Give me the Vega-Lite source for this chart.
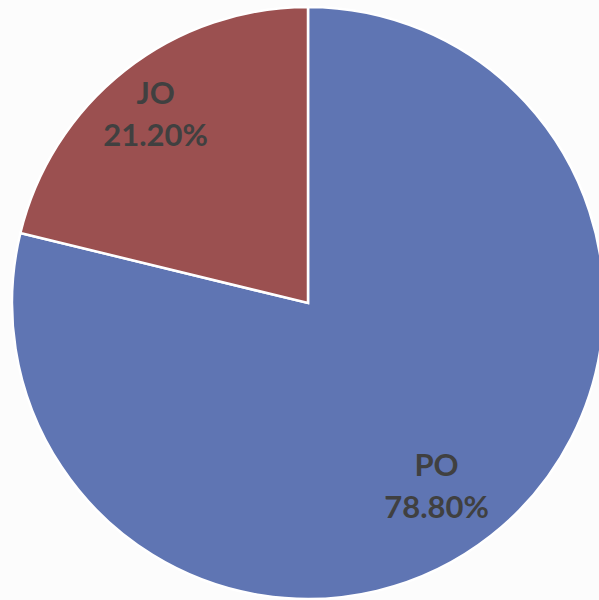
{
  "$schema": "https://vega.github.io/schema/vega-lite/v6.json",
  "width": 616,
  "height": 606,
  "padding": 0,
  "autosize": {"type": "none"},
  "background": "#fcfcfc",
  "view": {"stroke": null},
  "data": {
    "values": [
      {"name": "PO", "share": 78.8, "label": "PO\n78.80%", "ord": 1},
      {"name": "JO", "share": 21.2, "label": "JO\n21.20%", "ord": 2}
    ]
  },
  "encoding": {
    "theta": {"field": "share", "type": "quantitative", "stack": true},
    "order": {"field": "ord", "type": "quantitative"}
  },
  "layer": [
    {
      "mark": {"type": "arc", "outerRadius": 296, "stroke": "white", "strokeWidth": 2.5},
      "encoding": {
        "color": {
          "field": "name",
          "type": "nominal",
          "scale": {"domain": ["PO", "JO"], "range": ["#5f75b3", "#9b5050"]},
          "legend": null
        }
      }
    },
    {
      "mark": {"type": "text", "radius": 208, "font": "Lato", "fontWeight": "bold", "fontSize": 31, "lineHeight": 42, "lineBreak": "\n", "color": "#404040", "align": "center", "baseline": "middle"},
      "encoding": {
        "text": {"condition": {"test": "datum.name === 'PO'", "field": "label"}, "value": ""}
      }
    },
    {
      "mark": {"type": "text", "radius": 258, "dx": 7, "dy": -5, "font": "Lato", "fontWeight": "bold", "fontSize": 31, "lineHeight": 42, "lineBreak": "\n", "color": "#404040", "align": "center", "baseline": "middle"},
      "encoding": {
        "text": {"condition": {"test": "datum.name === 'JO'", "field": "label"}, "value": ""}
      }
    }
  ]
}
